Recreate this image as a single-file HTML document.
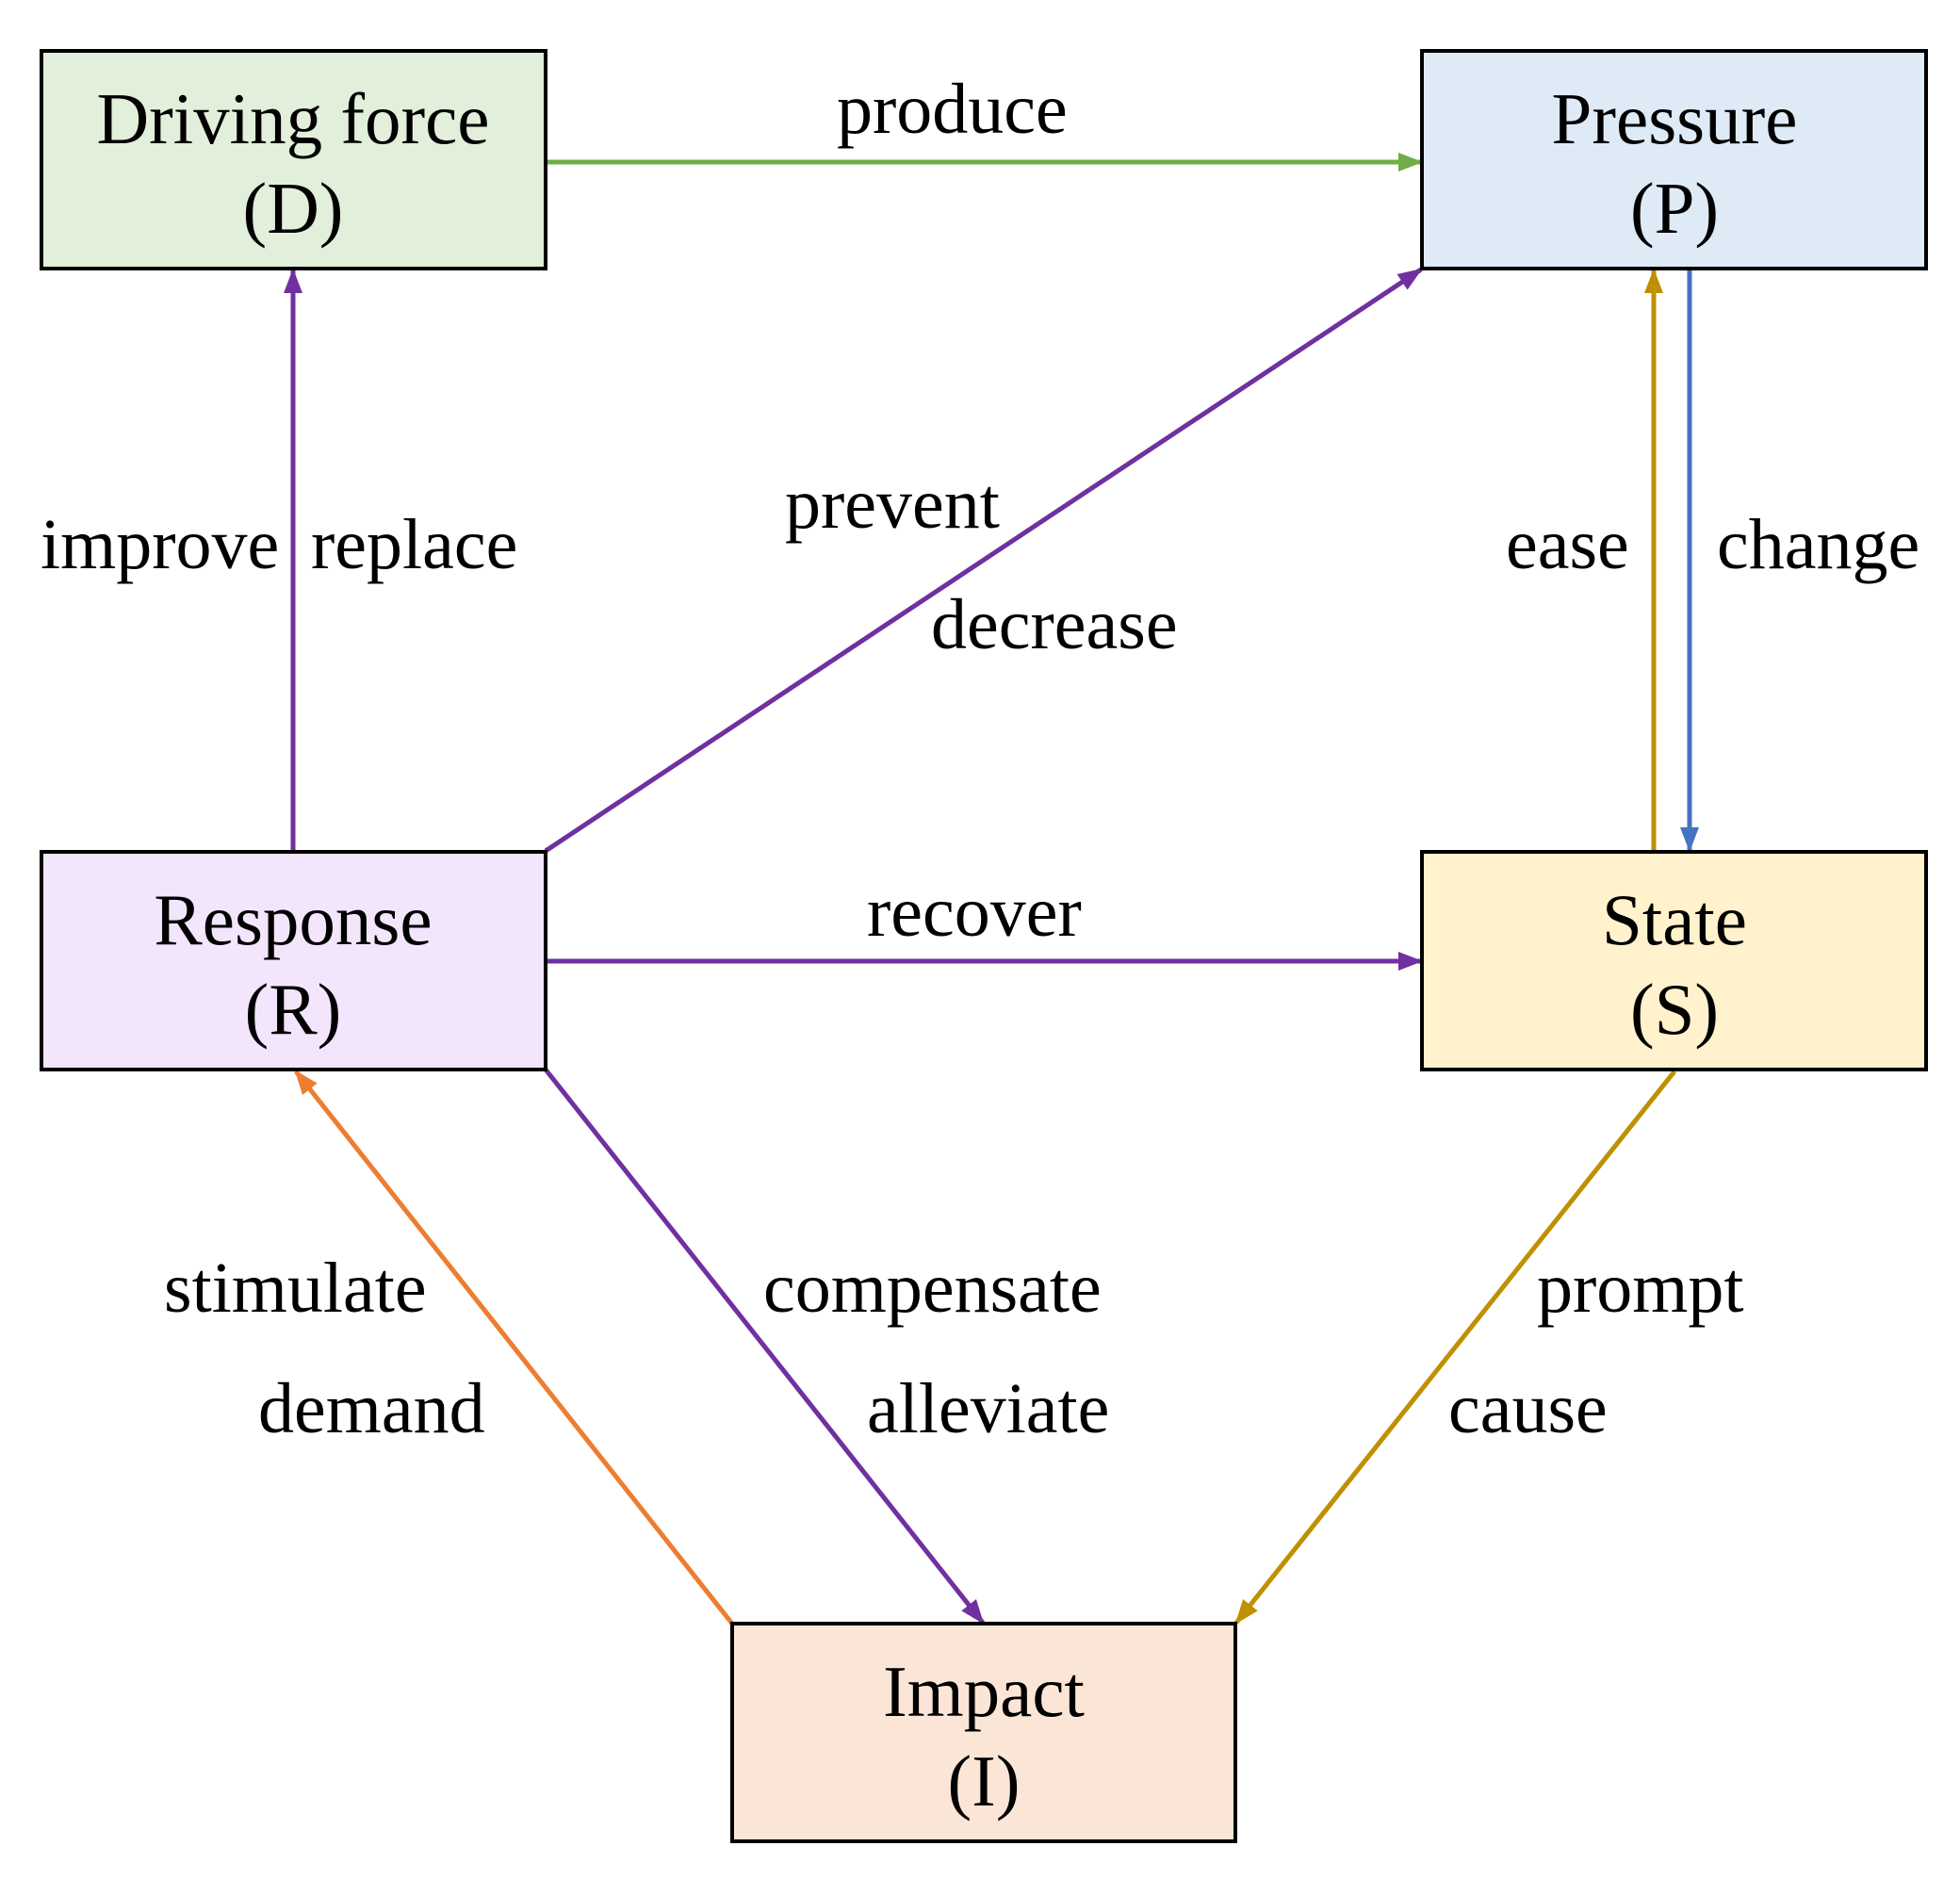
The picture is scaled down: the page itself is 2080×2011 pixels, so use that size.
<!DOCTYPE html>
<html><head><meta charset="utf-8"><style>html,body{margin:0;padding:0;background:#fff}svg{display:block}</style></head>
<body>
<svg width="2080" height="2011" viewBox="0 0 2080 2011" xmlns="http://www.w3.org/2000/svg" font-family="'Liberation Serif', serif">
<defs>
<marker id="mg" markerUnits="userSpaceOnUse" markerWidth="26" markerHeight="20" refX="24" refY="10" orient="auto"><path d="M0,0 L26,10 L0,20 Z" fill="#70ad47"/></marker>
<marker id="mp" markerUnits="userSpaceOnUse" markerWidth="26" markerHeight="20" refX="24" refY="10" orient="auto"><path d="M0,0 L26,10 L0,20 Z" fill="#7030a0"/></marker>
<marker id="mb" markerUnits="userSpaceOnUse" markerWidth="26" markerHeight="20" refX="24" refY="10" orient="auto"><path d="M0,0 L26,10 L0,20 Z" fill="#4472c4"/></marker>
<marker id="my" markerUnits="userSpaceOnUse" markerWidth="26" markerHeight="20" refX="24" refY="10" orient="auto"><path d="M0,0 L26,10 L0,20 Z" fill="#bf9000"/></marker>
<marker id="mo" markerUnits="userSpaceOnUse" markerWidth="26" markerHeight="20" refX="24" refY="10" orient="auto"><path d="M0,0 L26,10 L0,20 Z" fill="#ed7d31"/></marker>
</defs>
<g stroke-width="5" fill="none">
<line x1="581" y1="172" x2="1508" y2="172" stroke="#70ad47" marker-end="url(#mg)"/>
<line x1="311" y1="903" x2="311" y2="287" stroke="#7030a0" marker-end="url(#mp)"/>
<line x1="579" y1="903" x2="1508" y2="286" stroke="#7030a0" marker-end="url(#mp)"/>
<line x1="1755" y1="903" x2="1755" y2="287" stroke="#bf9000" marker-end="url(#my)"/>
<line x1="1793" y1="287" x2="1793" y2="902" stroke="#4472c4" marker-end="url(#mb)"/>
<line x1="581" y1="1020" x2="1508" y2="1020" stroke="#7030a0" marker-end="url(#mp)"/>
<line x1="579" y1="1135" x2="1043" y2="1722" stroke="#7030a0" marker-end="url(#mp)"/>
<line x1="777" y1="1723" x2="314" y2="1137" stroke="#ed7d31" marker-end="url(#mo)"/>
<line x1="1777" y1="1137" x2="1312" y2="1722" stroke="#bf9000" marker-end="url(#my)"/>
</g>
<g stroke="#000" stroke-width="4">
<rect x="44" y="54" width="535" height="231" fill="#e2efda"/>
<rect x="1509" y="54" width="535" height="231" fill="#deebf7"/>
<rect x="44" y="904" width="535" height="231" fill="#f3e5fb"/>
<rect x="1509" y="904" width="535" height="231" fill="#fff2cc"/>
<rect x="777" y="1723" width="534" height="231" fill="#fbe5d6"/>
</g>
<g font-size="77" text-anchor="middle" fill="#000">
<text x="311" y="152">Driving force</text><text x="311" y="247">(D)</text>
<text x="1777" y="152">Pressure</text><text x="1777" y="247">(P)</text>
<text x="311" y="1002">Response</text><text x="311" y="1097">(R)</text>
<text x="1777" y="1002">State</text><text x="1777" y="1097">(S)</text>
<text x="1044" y="1821">Impact</text><text x="1044" y="1916">(I)</text>
</g>
<g font-size="76" fill="#000">
<text x="888" y="141">produce</text>
<text x="43" y="603">improve</text>
<text x="330" y="603">replace</text>
<text x="833" y="560">prevent</text>
<text x="988" y="688">decrease</text>
<text x="1598" y="603">ease</text>
<text x="1822" y="603">change</text>
<text x="920" y="993">recover</text>
<text x="174" y="1392">stimulate</text>
<text x="274" y="1520">demand</text>
<text x="810" y="1392">compensate</text>
<text x="920" y="1520">alleviate</text>
<text x="1631" y="1392">prompt</text>
<text x="1537" y="1520">cause</text>
</g>
</svg>
</body></html>
